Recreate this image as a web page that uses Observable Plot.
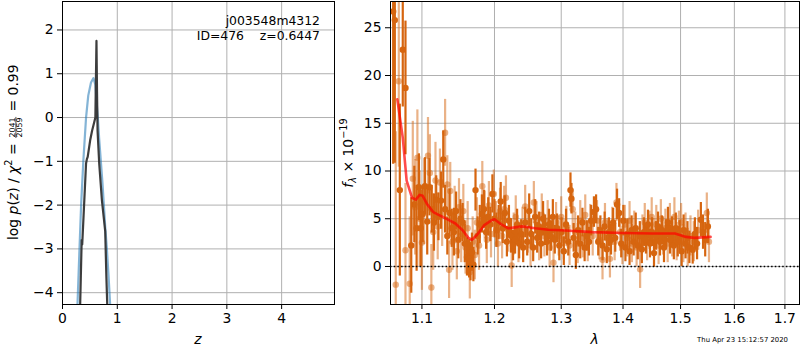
<!DOCTYPE html>
<html><head><meta charset="utf-8">
<script src="https://cdn.jsdelivr.net/npm/d3@7"></script>
<script src="https://cdn.jsdelivr.net/npm/@observablehq/plot@0.6"></script>
<style>
body{margin:0;background:#fff;}
#wrap{position:relative;width:800px;height:350px;font-family:"DejaVu Sans";background:#fff;}
#left{position:absolute;left:0;top:0}
#right{position:absolute;left:336px;top:0}
svg{overflow:visible}
</style></head><body><div id="wrap"><div id="left"></div><div id="right"></div></div>
<script>
// ---- left panel: p(z) ----
const zTicks = [0, 1, 2, 3, 4];
const logpTicks = [-4, -3, -2, -1, 0, 1, 2];
const blueZ =    [0.27, 0.31, 0.34, 0.38, 0.43, 0.47, 0.52, 0.565, 0.60, 0.625, 0.645, 0.67, 0.70, 0.73, 0.755, 0.78, 0.81, 0.84, 0.875];
const blueLogP = [-4.4, -3.0, -2.0, -1.0, 0.0, 0.5, 0.8, 0.9, 0.75, 0.3, 0.0, -0.5, -1.0, -1.5, -2.0, -2.5, -3.0, -3.6, -4.4];
const blackZ =    [0.32, 0.35, 0.36, 0.43, 0.445, 0.46, 0.505, 0.54, 0.58, 0.60, 0.62, 0.63, 0.64, 0.67, 0.72, 0.78, 0.80, 0.82];
const blackLogP = [-4.4, -2.8, -2.9, -1.05, -0.95, -0.9, -0.52, -0.3, -0.1, 0.0, 1.75, 0.6, -0.3, -1.05, -1.9, -2.6, -3.6, -4.4];
const objName = "j003548m4312";
const objInfo = "ID=476    z=0.6447";

// ---- right panel: spectrum ----
const lamTicks = [1.1, 1.2, 1.3, 1.4, 1.5, 1.6, 1.7];
const fluxTicks = [0, 5, 10, 15, 20, 25];
const darkLam = [1.0627,1.0648,1.0712,1.0750,1.0785,1.0860,1.0900,1.0930,1.0960,1.0985,1.1010,1.1040,1.1070,1.1100,1.1130,1.1160,1.1190,1.1220,1.1255,1.1285,1.1310,1.1340,1.1370,1.1400,1.1430,1.1460,1.1490,1.1520,1.1550,1.1580,1.1610,1.1640,1.1660,1.1680,1.1700,1.1730,1.1760,1.1790,1.1820,1.1850,1.1880,1.1910,1.1940,1.1970,1.2000,1.2030,1.2060,1.2090,1.2120,1.2150,1.2180,1.2210,1.2240,1.2270,1.2300,1.2330,1.2360,1.2390,1.2420,1.2450,1.2480,1.2510,1.2540,1.2570,1.2600,1.2630,1.2660,1.2690,1.2720,1.2750,1.2780,1.2810,1.2840,1.2870,1.2900,1.2935,1.2970,1.3005,1.3040,1.3075,1.3110,1.3145,1.3160,1.3195,1.3230,1.3265,1.3300,1.3335,1.3370,1.3405,1.3440,1.3475,1.3520,1.3555,1.3590,1.3625,1.3660,1.3695,1.3730,1.3765,1.3800,1.3835,1.3870,1.3900,1.3935,1.3970,1.4005,1.4040,1.4075,1.4110,1.4145,1.4180,1.4215,1.4250,1.4285,1.4320,1.4355,1.4390,1.4425,1.4460,1.4495,1.4530,1.4565,1.4600,1.4635,1.4670,1.4705,1.4740,1.4775,1.4810,1.4845,1.4880,1.4915,1.4950,1.4985,1.5020,1.5055,1.5090,1.5125,1.5160,1.5220,1.5260,1.5300,1.5370,1.5410,1.5450,1.5500];
const darkFlux = [26.7,25.8,8.0,22.7,18.7,2.2,6.5,4.0,8.3,4.0,5.5,8.4,4.7,8.3,6.0,4.6,7.0,5.2,6.9,11.2,6.0,3.2,5.6,4.0,3.6,5.8,2.8,5.0,4.6,2.4,1.0,0.8,0.5,1.5,0.2,8.0,3.2,4.4,5.5,6.0,3.6,5.2,4.4,7.6,5.0,3.8,4.6,6.8,4.0,5.6,2.6,4.8,3.2,2.2,2.8,4.4,2.4,3.4,2.0,4.6,2.6,5.8,3.4,2.0,5.2,3.0,4.2,2.4,5.0,3.8,2.6,4.4,3.2,5.2,2.8,4.0,2.2,3.6,1.6,4.4,2.6,8.0,7.1,3.0,1.2,3.8,2.4,4.6,2.0,3.2,2.6,4.8,5.7,6.0,2.6,3.8,2.2,4.2,1.8,3.6,2.8,4.6,3.0,6.5,5.6,2.4,4.8,2.0,3.4,1.6,3.8,2.6,4.0,2.2,3.2,1.8,3.6,2.8,4.4,2.4,3.6,1.4,3.2,4.2,2.6,3.8,2.0,3.4,4.6,2.8,3.6,2.2,4.0,2.6,3.2,1.6,3.8,2.4,3.0,2.0,1.75,3.4,2.4,4.9,3.6,2.8,4.2];
const darkErr = [16,15,9,6,7,5,4,4.5,3.5,4,3,3,3.5,3,2.5,3,2.5,2.5,3,3,2.5,2,2.5,2,2.5,2,2,2,2,2,2,2,2,2,1.8,2.2,2,2,2,2,1.8,2,1.8,2,2,1.8,1.8,2,1.6,1.8,1.6,1.6,1.8,1.6,1.5,1.6,1.6,1.5,1.6,1.6,1.5,1.8,1.6,1.5,1.8,1.6,1.5,1.6,1.8,1.6,1.5,1.6,1.6,1.8,1.5,1.5,1.6,1.5,1.5,1.6,1.5,1.8,1.6,1.5,1.5,1.5,1.6,1.5,1.5,1.6,1.5,1.6,1.6,1.5,1.5,1.5,1.6,1.5,1.5,1.5,1.6,1.5,1.5,1.6,1.5,1.5,1.6,1.5,1.5,1.5,1.5,1.5,1.6,1.5,1.5,1.5,1.5,1.5,1.5,1.5,1.5,1.5,1.5,1.5,1.5,1.5,1.6,1.5,1.6,1.5,1.6,1.5,1.6,1.6,1.6,1.6,1.6,1.6,1.7,1.7,1.5,1.7,1.7,1.8,1.8,1.8,1.8];
const lightLam = [1.0660,1.0699,1.0785,1.0840,1.0880,1.0910,1.0940,1.0970,1.1000,1.1030,1.1080,1.1105,1.1125,1.1150,1.1180,1.1210,1.1240,1.1270,1.1310,1.1340,1.1364,1.1380,1.1410,1.1440,1.1470,1.1500,1.1530,1.1560,1.1590,1.1620,1.1650,1.1690,1.1720,1.1750,1.1780,1.1826,1.1860,1.1890,1.1920,1.1950,1.1990,1.2020,1.2050,1.2080,1.2110,1.2140,1.2166,1.2200,1.2250,1.2280,1.2310,1.2350,1.2410,1.2450,1.2490,1.2530,1.2580,1.2620,1.2660,1.2700,1.2740,1.2790,1.2820,1.2880,1.2920,1.2960,1.3000,1.3040,1.3080,1.3130,1.3180,1.3220,1.3260,1.3300,1.3340,1.3380,1.3420,1.3460,1.3500,1.3570,1.3610,1.3660,1.3700,1.3740,1.3782,1.3820,1.3860,1.3890,1.3950,1.3990,1.4030,1.4070,1.4110,1.4150,1.4190,1.4230,1.4290,1.4330,1.4370,1.4410,1.4450,1.4490,1.4530,1.4570,1.4610,1.4650,1.4690,1.4730,1.4770,1.4810,1.4850,1.4890,1.4930,1.4970,1.5010,1.5050,1.5090,1.5130,1.5180,1.5240,1.5320,1.5480,1.5520];
const lightFlux = [-1.9,19.4,1.7,-1.8,9.2,6.2,11.4,5.0,2.5,6.8,11.6,9.8,-2.2,3.6,9.0,4.2,8.8,5.6,14.0,8.6,-0.35,7.9,2.6,5.4,1.6,6.2,3.2,5.8,2.0,4.0,-0.6,2.6,1.2,4.6,2.2,8.4,5.4,2.8,6.4,3.4,7.6,4.4,2.4,5.8,3.2,6.0,7.2,3.8,0.1,3.4,5.2,2.6,4.0,6.3,3.6,2.2,6.7,4.6,2.8,5.4,3.2,4.8,2.0,0.4,4.6,3.2,5.2,2.8,4.2,2.2,6.0,3.6,2.4,4.8,3.0,5.4,2.6,4.4,3.2,4.8,2.8,0.7,4.6,3.0,0.8,4.2,2.6,6.7,3.6,2.2,4.4,3.0,4.8,2.4,3.8,2.0,-0.3,3.4,4.6,2.6,3.8,5.2,3.0,4.4,2.2,5.0,3.2,4.0,2.4,4.6,3.0,5.2,2.6,3.8,4.6,2.4,3.6,2.0,3.2,2.6,3.8,5.6,2.6];
const lightErr = [16,9,7,7,6,5,5,5,5,4.5,4,4,4.5,4,4,3.5,3.5,3.5,3.5,3,3,3,3,3,3,3,2.8,2.8,2.8,2.8,2.8,2.6,2.6,2.6,2.6,2.6,2.5,2.5,2.5,2.5,2.5,2.4,2.4,2.4,2.4,2.4,2.3,2.3,2.3,2.2,2.2,2.2,2.2,2.2,2.2,2.2,2.2,2.2,2.2,2.2,2.2,2.1,2.1,2.1,2.1,2.1,2.1,2.1,2.1,2.1,2.1,2.1,2.1,2.1,2.1,2.1,2.1,2.1,2.1,2.1,2.1,2.1,2,2,2,2,2,2,2,2,2,2,2,2,2,2,2,2,2,2,2,2,2,2,2,2,2,2,2,2,2,2,2,2,2,2,2,2,2.1,2.1,2.1,2.1,2.2,2.2];
const modelLam =  [1.068,1.075,1.080,1.087,1.092,1.097,1.101,1.107,1.115,1.125,1.135,1.145,1.155,1.163,1.168,1.175,1.185,1.195,1.200,1.210,1.220,1.230,1.240,1.260,1.280,1.300,1.350,1.400,1.450,1.490,1.510,1.525,1.555];
const modelFlux = [17.5,13.5,9.0,7.2,7.0,7.5,7.4,6.5,5.7,5.3,4.9,4.5,3.8,3.0,2.8,3.3,4.3,4.8,4.95,4.4,4.0,4.1,4.2,4.0,3.85,3.8,3.6,3.5,3.45,3.45,3.1,3.0,3.1];

const zip2 = (a, b) => a.map((v, i) => ({x: v, y: b[i]}));
const zip3 = (a, b, c) => a.map((v, i) => ({x: v, y: b[i], e: c[i]}));
const blue = zip2(blueZ, blueLogP), black = zip2(blackZ, blackLogP);
const dark = zip3(darkLam, darkFlux, darkErr), light = zip3(lightLam, lightFlux, lightErr);
const model = zip2(modelLam, modelFlux);

const FS = 13.9;
const fmt = d => (d < 0 ? "\u2212" : "") + Math.abs(d);
const style = {fontFamily: "DejaVu Sans", fontSize: FS + "px", background: "white", color: "black", overflow: "visible"};
const gridStyle = {stroke: "#b0b0b0", strokeOpacity: 1, strokeWidth: 1};

const left = Plot.plot({
  width: 336, height: 350, marginLeft: 62, marginRight: 2, marginTop: 1, marginBottom: 46,
  style,
  x: {domain: [0, 4.965]},
  y: {domain: [-4.27, 2.65]},
  marks: [
    Plot.gridX(zTicks, gridStyle),
    Plot.gridY(logpTicks, gridStyle),
    Plot.line(blue, {x: "x", y: "y", stroke: "#1f77b4", strokeOpacity: 0.55, strokeWidth: 2.2, clip: true}),
    Plot.line(black, {x: "x", y: "y", stroke: "#333333", strokeOpacity: 0.95, strokeWidth: 2.2, clip: true}),
    Plot.frame({stroke: "black", strokeWidth: 1}),
    Plot.axisX(zTicks, {tickSize: 5, tickPadding: 4, label: null, tickFormat: fmt, fontSize: FS}),
    Plot.axisY(logpTicks, {tickSize: 5, tickPadding: 4, label: null, tickFormat: fmt, fontSize: FS})
  ]
});
document.getElementById("left").appendChild(left);

const right = Plot.plot({
  width: 464, height: 350, marginLeft: 54, marginRight: 1, marginTop: 1, marginBottom: 46,
  style,
  x: {type: "log", domain: [1.0593, 1.730]},
  y: {domain: [-3.98, 27.75]},
  marks: [
    Plot.gridX(lamTicks, gridStyle),
    Plot.gridY(fluxTicks, gridStyle),
    Plot.ruleX(light, {x: "x", y1: d => d.y - d.e, y2: d => d.y + d.e, stroke: "#d6650f", strokeOpacity: 0.5, strokeWidth: 2.2, clip: true}),
    Plot.dot(light, {x: "x", y: "y", r: 3.2, fill: "#d6650f", fillOpacity: 0.5, clip: true}),
    Plot.ruleX(dark, {x: "x", y1: d => d.y - d.e, y2: d => d.y + d.e, stroke: "#d6650f", strokeWidth: 2.2, clip: true}),
    Plot.dot(dark, {x: "x", y: "y", r: 3.2, fill: "#d6650f", clip: true}),
    Plot.ruleY([0], {stroke: "black", strokeWidth: 1.5, strokeDasharray: "1.5,2.2"}),
    Plot.line(model, {x: "x", y: "y", stroke: "red", strokeOpacity: 0.7, strokeWidth: 2.6, clip: true}),
    Plot.frame({stroke: "black", strokeWidth: 1}),
    Plot.axisX(lamTicks, {tickSize: 5, tickPadding: 4, label: null, tickFormat: d => d.toFixed(1), fontSize: FS}),
    Plot.axisY(fluxTicks, {tickSize: 5, tickPadding: 4, label: null, tickFormat: fmt, fontSize: FS})
  ]
});
document.getElementById("right").appendChild(right);

// ---- annotations ----
const L = d3.select(left), R = d3.select(right);
const FA = 12.4;
L.append("text").attr("x", 320).attr("y", 25).attr("text-anchor", "end").attr("font-size", FA).text(objName);
L.append("text").attr("x", 320).attr("y", 40).attr("text-anchor", "end").attr("font-size", FA).attr("xml:space", "preserve").style("white-space", "pre").text(objInfo);
L.append("text").attr("x", 198).attr("y", 344).attr("text-anchor", "middle").attr("font-size", FS).attr("font-style", "italic").text("z");

// left y label with fraction
const g = L.append("g").attr("transform", "translate(18,154) rotate(-90)").attr("font-size", FS).attr("text-anchor", "start");
const startX = -86;
const tA = g.append("text").attr("x", startX).attr("y", 0).attr("text-anchor", "start");
tA.append("tspan").text("log ");
tA.append("tspan").attr("font-style", "italic").text("p");
tA.append("tspan").text("(");
tA.append("tspan").attr("font-style", "italic").text("z");
tA.append("tspan").text(") / ");
tA.append("tspan").attr("font-style", "italic").text("\u03c7");
tA.append("tspan").attr("font-size", FS * 0.7).attr("dy", -6).text("2");
tA.append("tspan").attr("dy", 6).text(" = ");
const lenA = tA.node().getComputedTextLength();
const fx = startX + lenA + 1;
const fs2 = 7.9;
const num = g.append("text").attr("y", -3).attr("font-size", fs2).attr("text-anchor", "start").text("2041");
const den = g.append("text").attr("y", 4.2).attr("font-size", fs2).attr("text-anchor", "start").text("2059");
const wN = num.node().getComputedTextLength(), wD = den.node().getComputedTextLength();
const fw = Math.max(wN, wD) + 1;
num.attr("x", fx + (fw - wN) / 2);
den.attr("x", fx + (fw - wD) / 2);
g.append("line").attr("x1", fx).attr("x2", fx + fw).attr("y1", -2.1).attr("y2", -2.1).attr("stroke", "black").attr("stroke-width", 0.7);
g.append("text").attr("x", fx + fw + 1).attr("y", 0).attr("text-anchor", "start").attr("xml:space", "preserve").style("white-space", "pre").text(" = 0.99");

// right y label
const g2 = R.append("g").attr("transform", "translate(17,153) rotate(-90)").attr("font-size", FS);
const tB = g2.append("text").attr("text-anchor", "middle");
tB.append("tspan").attr("font-style", "italic").text("f");
tB.append("tspan").attr("font-size", FS * 0.7).attr("font-style", "italic").attr("dy", 2.5).text("\u03bb");
tB.append("tspan").attr("dy", -2.5).text(" \u00d7 10");
tB.append("tspan").attr("font-size", FS * 0.7).attr("dy", -6).text("\u221219");

R.append("text").attr("x", 258.5).attr("y", 344).attr("text-anchor", "middle").attr("font-size", FS).attr("font-style", "italic").text("\u03bb");
R.append("text").attr("x", 452).attr("y", 342).attr("text-anchor", "end").attr("font-size", 6.9).text("Thu Apr 23 15:12:57 2020");
</script></body></html>
